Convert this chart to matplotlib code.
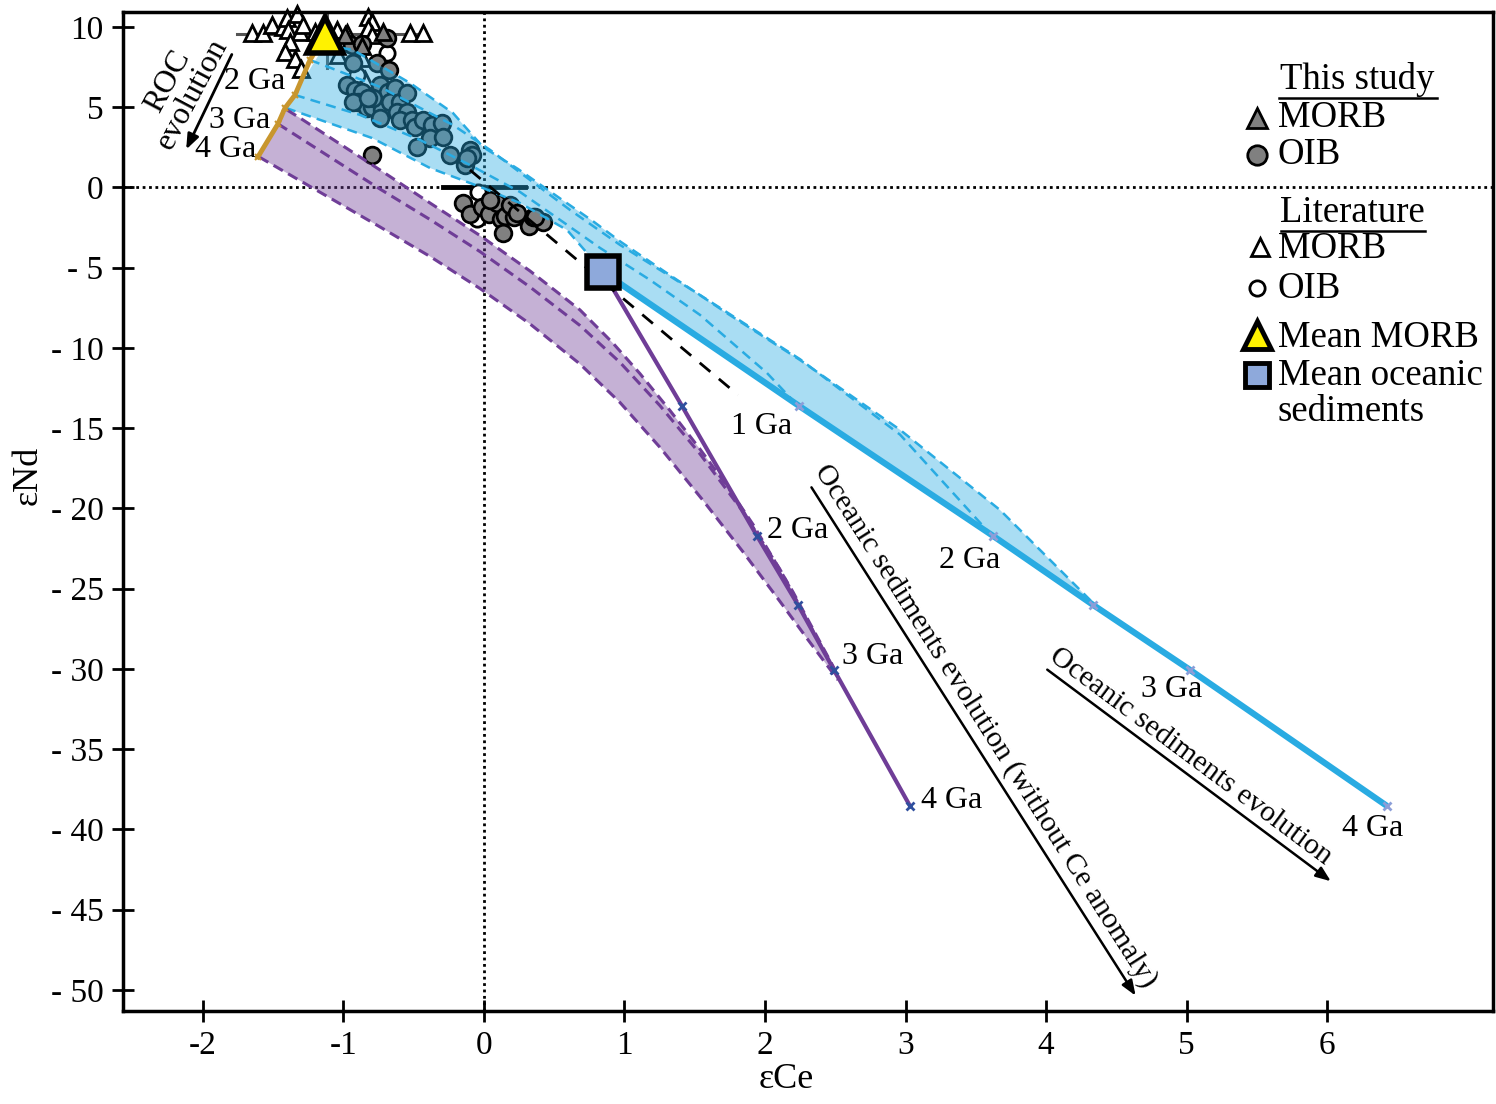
import numpy as np
import matplotlib.pyplot as plt

plt.rcParams['font.family'] = ['Liberation Serif', 'DejaVu Serif']

# ---- data ----------------------------------------------------------------
# literature MORB (open triangles)
lit_morb_x = [-1.651, -1.573, -1.509, -1.431, -1.402, -1.331, -1.395, -1.310, -1.288,
              -1.381, -1.416, -1.345, -1.302, -1.203, -1.046, -0.975, -0.826, -0.797,
              -0.826, -0.797, -0.868, -0.527, -0.434, -1.039, -0.847]
lit_morb_y = [9.63, 9.63, 10.12, 10.00, 10.56, 10.80, 9.81, 9.69, 10.12,
              9.07, 8.44, 8.00, 7.38, 9.69, 9.81, 9.63, 10.62, 10.31,
              9.94, 9.50, 8.07, 9.63, 9.63, 8.26, 6.70]

# literature OIB (open circles)
lit_oib_x = [-0.043, -0.050, -0.904, -0.690]
lit_oib_y = [-0.28, -1.96, 7.01, 8.40]

# this study MORB (grey triangles)
my_morb_x = [-0.989, -0.719, -0.868]
my_morb_y = [9.50, 9.69, 8.82]

# this study OIB (grey circles)
my_oib_x = [-0.940, -0.868, -0.690, -0.762, -0.676, -0.797,
            -0.149, -0.100, -0.014, 0.036, 0.093, 0.121, 0.149, 0.214, 0.135,
            0.320, 0.349, 0.420, 0.043, 0.185, 0.235, 0.363,
            -0.932, -0.975, -0.918, -0.868, -0.897, -0.833, -0.797, -0.740, -0.726,
            -0.740, -0.683, -0.633, -0.669, -0.598, -0.548, -0.619, -0.548, -0.598,
            -0.512, -0.491, -0.434, -0.370, -0.299, -0.384, -0.292, -0.477, -0.242,
            -0.135, -0.100, -0.085, -0.121, -0.790, -0.932, -0.826]
my_oib_y = [8.88, 8.94, 9.31, 7.76, 7.32, 2.02,
            -0.97, -1.65, -1.21, -1.65, -0.97, -1.96, -1.78, -1.84, -2.83,
            -2.40, -1.84, -2.15, -0.78, -1.09, -1.59, -1.84,
            7.76, 6.39, 6.07, 5.95, 5.33, 4.95, 5.02, 6.39, 4.83,
            4.33, 5.95, 6.20, 5.33, 5.33, 5.89, 4.70, 4.70, 4.21,
            4.21, 3.77, 4.21, 3.89, 4.02, 3.08, 3.15, 2.52, 2.02,
            1.40, 2.34, 2.02, 1.84, 5.58, 5.33, 5.58]

mean_morb = (-1.132, 9.50)
mean_morb_xerr = (-1.758, -0.456)
mean_morb_yerr = (7.45, 10.93)
mean_oib_xerr = (-0.292, 0.292)
mean_sed = (0.847, -5.26)

# ROC evolution (0, 1, 2, 2.5, 3, 4 Ga)
roc_x = [-1.150, -1.238, -1.345, -1.416, -1.466, -1.609]
roc_y = [9.20, 7.94, 5.76, 4.95, 3.96, 1.90]

# sediment evolution (0, 1, 2, 2.5, 3, 4 Ga)
sed_y = [-5.26, -13.61, -21.71, -26.01, -30.06, -38.54]
sed_x = [0.847, 2.242, 3.623, 4.335, 5.025, 6.427]
sed_noce_x = [0.847, 1.409, 1.943, 2.235, 2.491, 3.032]

# blue envelope curves
blue_a_x = [-1.132, -0.932, -0.527, -0.221, -0.007, 0.242, 0.434, 0.783, 0.975,
            1.331, 1.737, 2.249, 2.961, 3.673, 4.335]
blue_a_y = [8.88, 8.57, 6.51, 4.64, 2.52, 1.15, -0.03, -2.15, -3.40,
            -5.51, -7.88, -10.75, -15.10, -20.10, -25.89]
blue_b_x = [-1.238, -0.740, -0.221, 0.043, 0.327, 0.612, 0.968, 1.537, 2.249, 2.961, 3.623]
blue_b_y = [7.94, 6.26, 3.89, 2.34, 0.47, -1.40, -3.58, -6.70, -10.70, -15.40, -21.78]
blue_c_x = [-1.345, -0.883, -0.456, -0.100, 0.256, 0.541, 0.826, 1.181, 1.537, 2.014, 2.242]
blue_c_y = [5.76, 4.52, 2.96, 1.40, -0.28, -2.02, -3.77, -5.76, -7.94, -11.56, -13.68]
blue_d_x = [-1.409, -0.797, -0.384, -0.043, 0.256, 0.591, 0.733, 0.847]
blue_d_y = [4.95, 3.08, 1.21, 0.09, -0.97, -2.65, -4.08, -5.26]

# purple envelope curves
purp_top_x = [-1.402, -1.310, -0.719, -0.384, -0.028, 0.327, 0.683, 0.918, 1.110,
              1.324, 1.537, 1.730, 1.915, 2.199, 2.491]
purp_top_y = [4.83, 4.33, 0.97, -0.97, -3.00, -5.20, -7.63, -9.70, -11.60,
              -13.90, -16.30, -18.60, -21.00, -25.20, -29.94]
purp_mid_x = [-1.466, -0.740, -0.384, -0.028, 0.327, 0.683, 0.968, 1.253, 1.537,
              1.843, 2.107, 2.491]
purp_mid_y = [3.96, -0.10, -2.00, -4.00, -6.20, -8.60, -10.90, -13.60, -16.60,
              -20.20, -23.80, -30.06]
purp_bot_x = [-1.601, -0.740, -0.384, -0.028, 0.327, 0.683, 0.968, 1.253, 1.559,
              1.843, 2.107, 2.299, 2.520]
purp_bot_y = [1.90, -2.46, -4.30, -6.30, -8.50, -11.00, -13.40, -16.20, -19.50,
              -22.70, -25.80, -28.10, -30.69]

mix_x = [-0.100, 1.808]
mix_y = [1.09, -12.93]

xticks = [-2, -1, 0, 1, 2, 3, 4, 5, 6]
xticklabels = ['-2', '-1', '0', '1', '2', '3', '4', '5', '6']
yticks = [-50, -45, -40, -35, -30, -25, -20, -15, -10, -5, 0, 5, 10]
yticklabels = ['- 50', '- 45', '- 40', '- 35', '- 30', '- 25', '- 20', '- 15', '- 10',
               '- 5', '0', '5', '10']

BLUE = '#29abe2'
PURPLE = '#6f3d97'
ORANGE = '#c8962e'

fig = plt.figure(figsize=(14.96, 11.04), dpi=100)
ax = fig.add_axes([123/1496, 1-1011/1104, 1370/1496, 999/1104])
ax.set_xlim(-2.569, 7.181)
ax.set_ylim(-51.31, 10.93)

ax.axhline(0, color='k', ls=(0, (1, 1.3)), lw=2, zorder=1)
ax.axvline(0, color='k', ls=(0, (1, 1.3)), lw=2, zorder=1)

# error bars
ax.plot(mean_morb_xerr, [9.56, 9.56], color='#555555', lw=2.2, zorder=1.5)
ax.plot([-1.117, -1.117], mean_morb_yerr, color='#555555', lw=2.2, zorder=1.5)
ax.plot(mean_oib_xerr, [0, 0], color='k', lw=3.5, zorder=1.5)

# data points (drawn below the semi-transparent envelopes)
ax.plot(lit_morb_x, lit_morb_y, '^', ms=11, mfc='white', mec='k', mew=2, ls='none',
        zorder=2, clip_on=False)
ax.plot(lit_oib_x, lit_oib_y, 'o', ms=11, mfc='white', mec='k', mew=2, ls='none', zorder=2)
ax.plot(my_oib_x, my_oib_y, 'o', ms=12, mfc='#808080', mec='k', mew=2, ls='none', zorder=2)
ax.plot(my_morb_x, my_morb_y, '^', ms=12, mfc='#808080', mec='k', mew=2, ls='none', zorder=2)

# blue envelope
bx = blue_a_x + sed_x[3::-1] + blue_d_x[::-1]
by = blue_a_y + sed_y[3::-1] + blue_d_y[::-1]
ax.fill(bx, by, color=BLUE, alpha=0.4, lw=0, zorder=3)
for cx, cy in [(blue_a_x, blue_a_y), (blue_b_x, blue_b_y), (blue_c_x, blue_c_y),
               (blue_d_x, blue_d_y)]:
    ax.plot(cx, cy, color=BLUE, lw=1.8, ls=(0, (4, 2.5)), zorder=3.2)

# purple envelope
px_ = purp_top_x + purp_bot_x[::-1]
py_ = purp_top_y + purp_bot_y[::-1]
ax.fill(px_, py_, color=PURPLE, alpha=0.4, lw=0, zorder=3)
for cx, cy in [(purp_top_x, purp_top_y), (purp_mid_x, purp_mid_y), (purp_bot_x, purp_bot_y)]:
    ax.plot(cx, cy, color=PURPLE, lw=2.2, ls=(0, (3.5, 2)), zorder=3.2)

# evolution lines
ax.plot(sed_x, sed_y, color=BLUE, lw=4.5, zorder=3.5, solid_capstyle='butt')
ax.plot(sed_x[1:], sed_y[1:], 'x', color='#8c9ed8', ms=6, mew=2, zorder=3.6)
ax.plot(sed_noce_x, sed_y, color=PURPLE, lw=3, zorder=3.5)
ax.plot(sed_noce_x[1:], sed_y[1:], 'x', color='#2f4f9e', ms=6, mew=2, zorder=3.6)
ax.plot(roc_x, roc_y, color=ORANGE, lw=3.5, zorder=3.5)
ax.plot(roc_x[1:], roc_y[1:], 'x', color=ORANGE, ms=5, mew=1.5, zorder=3.6)

ax.plot(mix_x, mix_y, color='k', lw=2, ls=(0, (5, 4)), zorder=4)

# means
ax.plot(*mean_morb, '^', ms=26, mfc='#fff200', mec='k', mew=4, zorder=5, clip_on=False)
ax.plot(*mean_sed, 's', ms=23, mfc='#8ea9db', mec='k', mew=4, zorder=4.5)

# annotations
fs = 23
ax.text(-2.164, 6.20, 'ROC\nevolution', rotation=62, fontsize=fs, ha='center',
        va='center', linespacing=0.95)
ax.annotate('', xy=(-2.128, 2.21), xytext=(-1.786, 8.44),
            arrowprops=dict(arrowstyle='-|>,head_length=0.9,head_width=0.35',
                            color='k', lw=2))
for t, x, y in [('2 Ga', -1.630, 6.57), ('3 Ga', -1.737, 4.14), ('4 Ga', -1.836, 2.34),
                ('1 Ga', 1.979, -14.92), ('2 Ga', 2.235, -21.40), ('3 Ga', 2.769, -29.25),
                ('4 Ga', 3.331, -38.22), ('2 Ga', 3.459, -23.27), ('3 Ga', 4.897, -31.31),
                ('4 Ga', 6.327, -39.97)]:
    ax.text(x, y, t, fontsize=fs, ha='center', va='center')

ax.annotate('', xy=(4.648, -50.50), xytext=(2.320, -18.54),
            arrowprops=dict(arrowstyle='-|>,head_length=0.9,head_width=0.35',
                            color='k', lw=1.8))
ax.text(3.566, -33.52, 'Oceanic sediments evolution (without Ce anomaly)', rotation=-57.5,
        rotation_mode='anchor', fontsize=21.5, ha='center', va='center')
ax.annotate('', xy=(6.043, -43.33), xytext=(3.993, -29.94),
            arrowprops=dict(arrowstyle='-|>,head_length=0.9,head_width=0.35',
                            color='k', lw=1.8))
ax.text(5.025, -35.48, 'Oceanic sediments evolution', rotation=-36.7,
        rotation_mode='anchor', fontsize=21.5, ha='center', va='center')

# legend built by hand
T = ax.transAxes
lfs = 26.5
ax.text(0.901, 0.932, 'This study', transform=T, fontsize=lfs, ha='center', va='center')
ax.plot([0.844, 0.959], [0.914, 0.914], transform=T, color='k', lw=1.8)
ax.plot(0.828, 0.894, '^', transform=T, ms=15, mfc='#808080', mec='k', mew=2)
ax.text(0.843, 0.894, 'MORB', transform=T, fontsize=lfs, va='center')
ax.plot(0.828, 0.857, 'o', transform=T, ms=14, mfc='#808080', mec='k', mew=2)
ax.text(0.843, 0.857, 'OIB', transform=T, fontsize=lfs, va='center')
ax.text(0.897, 0.799, 'Literature', transform=T, fontsize=lfs, ha='center', va='center')
ax.plot([0.845, 0.950], [0.781, 0.781], transform=T, color='k', lw=1.8)
ax.plot(0.830, 0.765, '^', transform=T, ms=13, mfc='white', mec='k', mew=2)
ax.text(0.843, 0.763, 'MORB', transform=T, fontsize=lfs, va='center')
ax.plot(0.828, 0.724, 'o', transform=T, ms=11, mfc='white', mec='k', mew=2)
ax.text(0.843, 0.723, 'OIB', transform=T, fontsize=lfs, va='center')
ax.plot(0.828, 0.677, '^', transform=T, ms=20, mfc='#fff200', mec='k', mew=3.5)
ax.text(0.843, 0.674, 'Mean MORB', transform=T, fontsize=lfs, va='center')
ax.plot(0.828, 0.637, 's', transform=T, ms=17, mfc='#8ea9db', mec='k', mew=3.5)
ax.text(0.843, 0.636, 'Mean oceanic', transform=T, fontsize=lfs, va='center')
ax.text(0.843, 0.600, 'sediments', transform=T, fontsize=lfs, va='center')

ax.set_xticks(xticks)
ax.set_xticklabels(xticklabels, fontsize=24)
ax.set_yticks(yticks)
ax.set_yticklabels(yticklabels, fontsize=24)
ax.tick_params(direction='inout', length=16, width=2, pad=6)
for s in ax.spines.values():
    s.set_linewidth(2.5)
ax.set_xlabel('εCe', fontsize=26)
ax.set_ylabel('εNd', fontsize=26)
ax.xaxis.set_label_coords(0.484, -0.052)
ax.yaxis.set_label_coords(-0.057, 0.536)

fig.savefig('out.png', dpi=100)
